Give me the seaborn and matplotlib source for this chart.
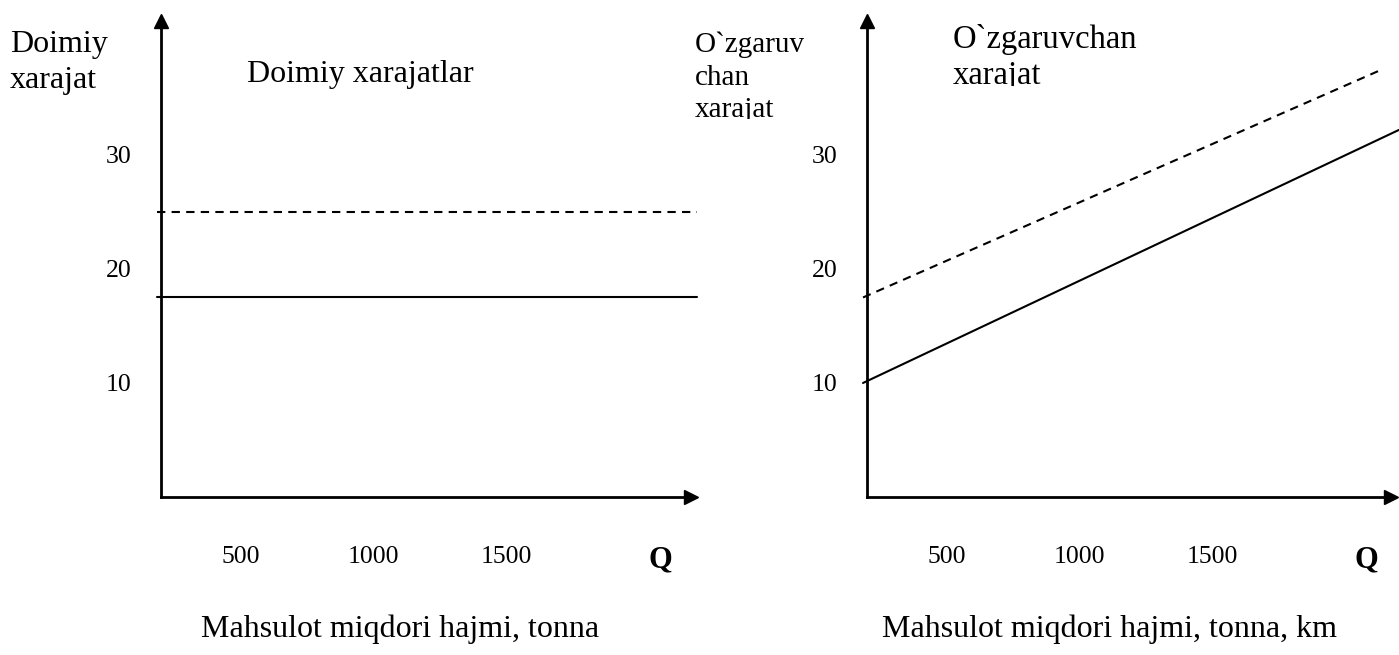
import matplotlib
matplotlib.use('Agg')
import matplotlib.pyplot as plt
import seaborn as sns
from matplotlib.transforms import Bbox, TransformedBbox

# Doimiy xarajatlar (chap grafik)
q_fixed = [187, 2217]
fixed_solid = [17.5, 17.5]
fixed_dashed = [25, 25]

# O`zgaruvchan xarajat (o'ng grafik)
q_var_solid = [187, 2202]
var_solid = [10, 32.2]
q_var_dashed = [187, 2138]
var_dashed = [17.5, 37.5]

x_ticks = [500, 1000, 1500, 2078]
x_tick_labels = ['500', '1000', '1500', 'Q']
y_ticks = [10, 20, 30]
y_tick_labels = ['10', '20', '30']

sns.set_style('white')
plt.rcParams['font.family'] = ['Liberation Serif', 'DejaVu Serif']
plt.rcParams['text.color'] = 'black'
plt.rcParams['xtick.color'] = 'black'
plt.rcParams['ytick.color'] = 'black'

W, H = 1399, 655
fig = plt.figure(figsize=(W / 100, H / 100), dpi=100)

px_per_q = 0.266
q0 = 202
y_top = 41.75


def make_axes(x0, x1, y0=21, y1=497):
    ax = fig.add_axes([x0 / W, 1 - y1 / H, (x1 - x0) / W, (y1 - y0) / H])
    ax.set_xlim(q0, q0 + (x1 - x0) / px_per_q)
    ax.set_ylim(0, y_top)
    for s in ['top', 'right']:
        ax.spines[s].set_visible(False)
    for s in ['left', 'bottom']:
        ax.spines[s].set_linewidth(2)
        ax.spines[s].set_color('black')
    ax.set_xticks(x_ticks)
    ax.set_xticklabels(x_tick_labels)
    ax.set_yticks(y_ticks)
    ax.set_yticklabels(y_tick_labels)
    ax.tick_params(axis='x', length=0, pad=35, labelsize=18.5)
    ax.tick_params(axis='y', length=0, pad=21, labelsize=18.5)
    q_lab = ax.get_xticklabels()[-1]
    q_lab.set_fontweight('bold')
    q_lab.set_fontsize(22)
    ax.plot([0], [1], marker='^', ms=10, color='black', transform=ax.transAxes,
            clip_on=False, zorder=5)
    ax.plot([1], [0], marker='>', ms=10, color='black', transform=ax.transAxes,
            clip_on=False, zorder=5)
    return ax


ax1 = make_axes(161, 691)
sns.lineplot(x=q_fixed, y=fixed_solid, ax=ax1, color='black', lw=1.5, clip_on=False)
sns.lineplot(x=q_fixed, y=fixed_dashed, ax=ax1, color='black', lw=1.5,
             linestyle=(0, (4, 3)), clip_on=False)

ax2 = make_axes(867, 1391)
sns.lineplot(x=q_var_solid, y=var_solid, ax=ax2, color='black', lw=1.5, clip_on=False)
sns.lineplot(x=q_var_dashed, y=var_dashed, ax=ax2, color='black', lw=1.5,
             linestyle=(0, (4, 3)), clip_on=False)

for ax in (ax1, ax2):
    ax.set_xlabel('')
    ax.set_ylabel('')


def ftext(x, y, s, size, clip_y=None, spacing=1.33, **kw):
    # y = baseline of the last line, in pixels from the top
    t = fig.text(x / W, 1 - y / H, s, fontsize=size, va='baseline',
                 linespacing=spacing, **kw)
    if clip_y is not None:
        box = Bbox.from_extents(0, 1 - clip_y / H, 1, 1)
        t.set_clip_box(TransformedBbox(box, fig.transFigure))
        t.set_clip_on(True)
    return t


ftext(10, 88, 'Doimiy\nxarajat', 23)
ftext(247, 82, 'Doimiy xarajatlar', 23)
ftext(695, 117, 'O`zgaruv\nchan\nxarajat', 21, clip_y=119, spacing=1.32)
ftext(953, 84, 'O`zgaruvchan\nxarajat', 23.5, clip_y=86, spacing=1.23)
ftext(400, 637, 'Mahsulot miqdori hajmi, tonna', 23, ha='center')
ftext(1110, 637, 'Mahsulot miqdori hajmi, tonna, km', 23, ha='center')

fig.savefig('out.png', dpi=100)
